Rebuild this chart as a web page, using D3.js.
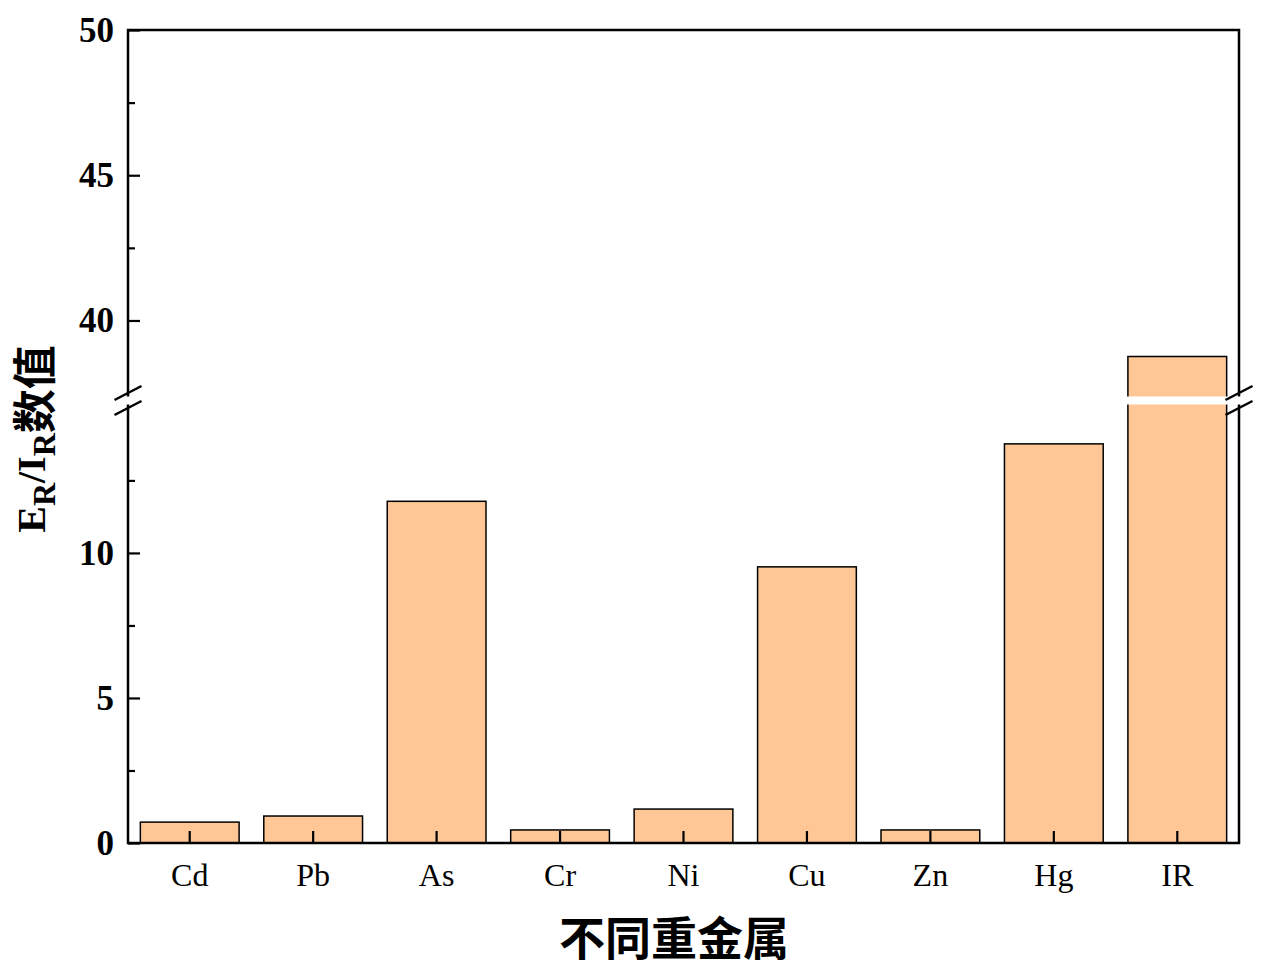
<!DOCTYPE html>
<html><head><meta charset="utf-8">
<script src="https://cdn.jsdelivr.net/npm/d3@7"></script>
<style>body{margin:0;background:#fff;}</style>
</head><body>
<svg id="chart" width="1266" height="973"></svg>
<script>
const categories = ["Cd","Pb","As","Cr","Ni","Cu","Zn","Hg","IR"];
const values = [0.72, 0.93, 11.78, 0.45, 1.17, 9.52, 0.45, 13.76, 38.76];
const lowMajorTicks = [0, 5, 10];
const lowMinorTicks = [2.5, 7.5, 12.5];
const highMajorTicks = [40, 45, 50];
const highMinorTicks = [42.5, 47.5];
const lowDomain = [0, 15.1];
const highDomain = [37.4, 50];
const xTitle = "不同重金属";

const serif = "'Liberation Serif','Times New Roman',serif";
const cjk = "'Noto Sans CJK SC','Noto Sans CJK JP',sans-serif";
const L = 128, R = 1239, T = 30, B = 843;
const gapTop = 396, gapBot = 405;
const svg = d3.select("#chart");

const x = d3.scaleBand().domain(categories).range([L, R]).paddingInner(0.2).paddingOuter(0.1);
const yLow = d3.scaleLinear().domain(lowDomain).range([B, gapBot]);
const yHigh = d3.scaleLinear().domain(highDomain).range([gapTop, T]);

// bars
const bars = svg.append("g");
categories.forEach((c, i) => {
  const v = values[i];
  const top = v > highDomain[0] ? yHigh(v) : yLow(v);
  bars.append("rect")
    .attr("x", x(c)).attr("y", top)
    .attr("width", x.bandwidth()).attr("height", B - top)
    .attr("fill", "#FEC795").attr("stroke", "#000").attr("stroke-width", 1.5);
});

// axes
function styleAxis(g, fontSize, weight) {
  g.selectAll(".domain").remove();
  g.selectAll(".tick line").attr("stroke", "#000").attr("stroke-width", 2.2);
  g.selectAll(".tick text").attr("font-family", serif).attr("font-size", fontSize)
    .attr("font-weight", weight).attr("fill", "#000");
}
const gLowMaj = svg.append("g").attr("transform", `translate(${L},0)`)
  .call(d3.axisLeft(yLow).tickValues(lowMajorTicks).tickSize(-12).tickPadding(14).tickFormat(d3.format("d")));
styleAxis(gLowMaj, 35, "bold");
const gLowMin = svg.append("g").attr("transform", `translate(${L},0)`)
  .call(d3.axisLeft(yLow).tickValues(lowMinorTicks).tickSize(-7).tickFormat(""));
styleAxis(gLowMin, 35, "bold");
const gHighMaj = svg.append("g").attr("transform", `translate(${L},0)`)
  .call(d3.axisLeft(yHigh).tickValues(highMajorTicks).tickSize(-12).tickPadding(14).tickFormat(d3.format("d")));
styleAxis(gHighMaj, 35, "bold");
const gHighMin = svg.append("g").attr("transform", `translate(${L},0)`)
  .call(d3.axisLeft(yHigh).tickValues(highMinorTicks).tickSize(-7).tickFormat(""));
styleAxis(gHighMin, 35, "bold");
const gX = svg.append("g").attr("transform", `translate(0,${B})`)
  .call(d3.axisBottom(x).tickSize(-12).tickPadding(20));
styleAxis(gX, 32, "normal");

// frame
svg.append("rect").attr("x", L).attr("y", T).attr("width", R - L).attr("height", B - T)
  .attr("fill", "none").attr("stroke", "#000").attr("stroke-width", 2.5);

// break band
svg.append("rect").attr("x", L - 6).attr("y", gapTop + 0.5).attr("width", R - L + 12)
  .attr("height", gapBot - gapTop - 1).attr("fill", "#fff");
[L, R].forEach(ax => {
  [gapTop - 3, gapBot + 3].forEach(cy => {
    svg.append("line").attr("x1", ax - 13.5).attr("y1", cy + 7).attr("x2", ax + 13.5).attr("y2", cy - 7)
      .attr("stroke", "#000").attr("stroke-width", 2.5);
  });
});

// x title
svg.append("text").attr("x", 674).attr("y", 955).attr("text-anchor", "middle")
  .attr("font-family", cjk).attr("font-weight", "bold").attr("font-size", 46).attr("fill", "#000")
  .text(xTitle);

// y title
const yt = svg.append("text").attr("transform", "translate(45,439) rotate(-90)")
  .attr("text-anchor", "middle").attr("fill", "#000").attr("font-weight", "bold");
yt.append("tspan").attr("font-family", serif).attr("font-size", 40).text("E");
yt.append("tspan").attr("font-family", serif).attr("font-size", 32).attr("dy", 10).text("R");
yt.append("tspan").attr("font-family", serif).attr("font-size", 40).attr("dy", -10).text("/I");
yt.append("tspan").attr("font-family", serif).attr("font-size", 32).attr("dy", 10).text("R");
yt.append("tspan").attr("font-family", cjk).attr("font-size", 44).attr("dy", -4).text("数值");
</script>
</body></html>
